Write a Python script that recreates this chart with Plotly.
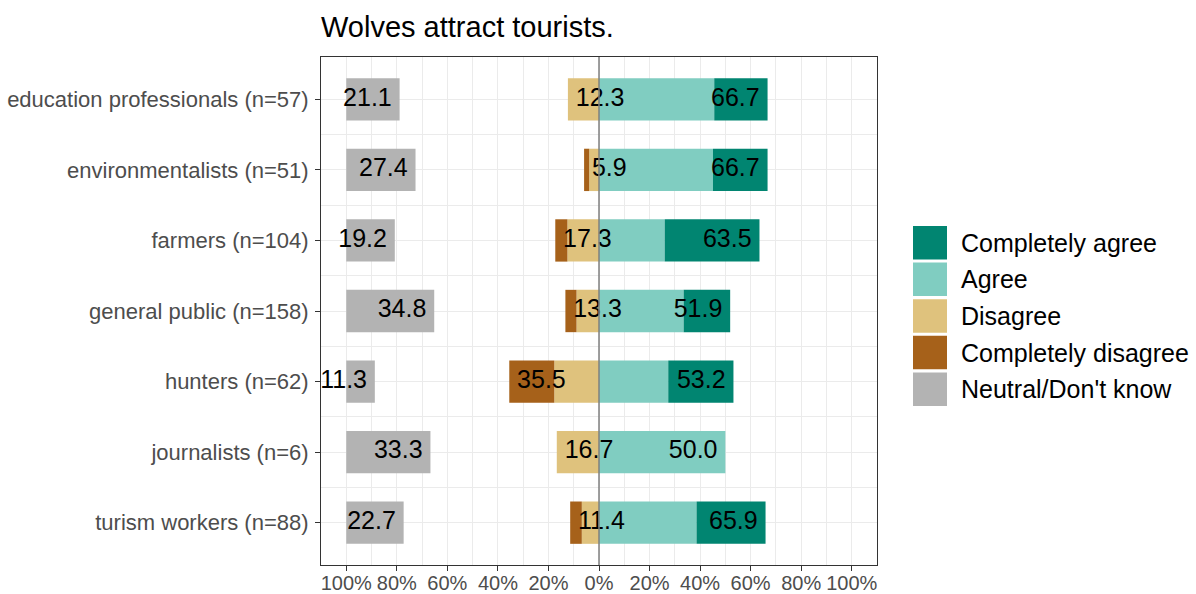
import plotly.graph_objects as go

groups = ["education professionals (n=57)", "environmentalists (n=51)", "farmers (n=104)",
          "general public (n=158)", "hunters (n=62)", "journalists (n=6)", "turism workers (n=88)"]
completely_agree = [21.1, 21.6, 37.5, 18.4, 25.8, 0.0, 27.3]
agree = [45.6, 45.1, 26.0, 33.5, 27.4, 50.0, 38.6]
disagree = [12.3, 3.9, 12.5, 8.9, 17.7, 16.7, 6.8]
completely_disagree = [0.0, 2.0, 4.8, 4.4, 17.8, 0.0, 4.6]
neutral = [21.1, 27.4, 19.2, 34.8, 11.3, 33.3, 22.7]

legend_names = ["Completely agree", "Agree", "Disagree", "Completely disagree", "Neutral/Don't know"]
colors = ["#018571", "#80CDC1", "#DFC27D", "#A6611A", "#B3B3B3"]
tick_vals = [-100, -80, -60, -40, -20, 0, 20, 40, 60, 80, 100]
tick_text = ["100%", "80%", "60%", "40%", "20%", "0%", "20%", "40%", "60%", "80%", "100%"]

pos = list(range(len(groups)))
agree_tot = [a + c for a, c in zip(agree, completely_agree)]
disagree_tot = [d + c for d, c in zip(disagree, completely_disagree)]
pad = 3.1  # label padding, in axis units (~8px)

fig = go.Figure()

def bar(x, base, color):
    fig.add_trace(go.Bar(y=pos, x=x, base=base, orientation='h', width=0.6,
                         marker=dict(color=color, line=dict(width=0)), hoverinfo='skip'))

bar(neutral, [-100] * len(pos), colors[4])
bar(disagree, [-d for d in disagree], colors[2])
bar(completely_disagree, [-t for t in disagree_tot], colors[3])
bar(agree, [0] * len(pos), colors[1])
bar(completely_agree, agree, colors[0])

lab_font = dict(family='Liberation Sans, Arial, sans-serif', size=25, color='black')
fig.add_trace(go.Scatter(y=pos, x=[-100 + n - pad for n in neutral], mode='text',
                         text=[f"{n:.1f}" for n in neutral], textposition='middle left',
                         textfont=lab_font, cliponaxis=False, hoverinfo='skip'))
fig.add_trace(go.Scatter(y=pos, x=[-t + pad for t in disagree_tot], mode='text',
                         text=[f"{t:.1f}" for t in disagree_tot], textposition='middle right',
                         textfont=lab_font, cliponaxis=False, hoverinfo='skip'))
fig.add_trace(go.Scatter(y=pos, x=[t - pad for t in agree_tot], mode='text',
                         text=[f"{t:.1f}" for t in agree_tot], textposition='middle left',
                         textfont=lab_font, cliponaxis=False, hoverinfo='skip'))

# zero line above the bars
fig.add_shape(type='line', x0=0, x1=0, y0=0, y1=1, xref='x', yref='paper',
              line=dict(color='#7F7F7F', width=1.5), layer='above')

# hand-made legend with large keys
L, R, T, B = 321, 877, 57, 565
for i, (name, col) in enumerate(zip(legend_names, colors)):
    top = 226 + 36.6 * i
    fig.add_shape(type='rect', xref='paper', yref='paper',
                  x0=(913 - L) / (R - L), x1=(947 - L) / (R - L),
                  y0=(B - top) / (B - T), y1=(B - top - 33.5) / (B - T),
                  fillcolor=col, line=dict(width=0))
    fig.add_annotation(xref='paper', yref='paper', x=(961 - L) / (R - L),
                       y=(B - top - 16.7) / (B - T), text=name, showarrow=False,
                       xanchor='left', yanchor='middle', xshift=-2,
                       font=dict(family='Liberation Sans, Arial, sans-serif', size=25, color='black'))

fig.update_layout(
    width=1196, height=594,
    margin=dict(l=L, r=1196 - R, t=T, b=594 - B),
    plot_bgcolor='white', paper_bgcolor='white',
    showlegend=False, barmode='overlay',
    font=dict(family='Liberation Sans, Arial, sans-serif', size=22, color='#4D4D4D'),
    title=dict(text='Wolves attract tourists.', x=L / 1196, xanchor='left',
               y=1 - 27 / 594, yanchor='middle', yref='container',
               font=dict(size=29, color='black')),
)
fig.update_xaxes(
    range=[-110, 110], tickvals=tick_vals, ticktext=tick_text, tickangle=0, automargin=False,
    tickfont=dict(size=20), ticklabelstandoff=-5,
    showgrid=True, gridcolor='#EBEBEB', gridwidth=1.3,
    minor=dict(tickmode='linear', tick0=0, dtick=10, showgrid=True, gridcolor='#EBEBEB', gridwidth=0.7),
    ticks='outside', ticklen=5, tickcolor='#333333',
    showline=True, mirror=True, linecolor='#333333', linewidth=1, zeroline=False,
)
fig.update_yaxes(
    range=[len(groups) - 0.4, -0.6], tickvals=pos, ticktext=groups, automargin=False,
    ticklabelstandoff=2,
    showgrid=True, gridcolor='#EBEBEB', gridwidth=1.3,
    minor=dict(tickmode='array', tickvals=[p + 0.5 for p in pos[:-1]], showgrid=True,
               gridcolor='#EBEBEB', gridwidth=0.7),
    ticks='outside', ticklen=5, tickcolor='#333333',
    showline=True, mirror=True, linecolor='#333333', linewidth=1, zeroline=False,
)

fig.write_html("out.html", config={'displayModeBar': False},
               post_script="document.body.style.margin='0px';")
